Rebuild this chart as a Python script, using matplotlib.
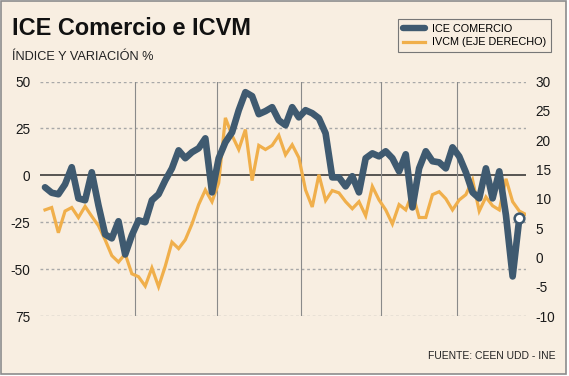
import numpy as np
import matplotlib
matplotlib.use("Agg")
from matplotlib import pyplot as plt
from matplotlib import transforms
from matplotlib.patches import Rectangle

# monthly series
ice_comercio = [-6.4, -9.3, -10.1, -4.8, 4.3, -12.3, -13.3, 1.6, -16.0, -31.5,
                -33.6, -24.5, -42.2, -32.0, -24.0, -25.0, -13.3, -10.1, -2.7, 3.7,
                13.3, 9.1, 12.3, 14.4, 19.7, -9.1, 9.1, 17.6, 22.9, 34.7,
                44.3, 42.2, 32.6, 34.2, 36.3, 29.3, 26.7, 36.3, 30.9, 34.7,
                33.1, 30.4, 22.4, -1.1, -1.1, -5.9, -0.5, -9.1, 9.1, 11.7,
                10.1, 12.8, 9.1, 2.1, 11.2, -17.1, 3.7, 12.8, 7.5, 6.9,
                3.7, 14.9, 10.1, 1.6, -9.1, -12.3, 3.7, -12.3, 2.1, -21.3,
                -53.9, -22.9]

ivcm = [8.1, 8.5, 4.2, 7.9, 8.5, 6.8, 8.7, 7.0, 5.4, 3.0,
        0.3, -0.8, 0.6, -2.8, -3.3, -4.9, -1.8, -5.0, -1.5, 2.6,
        1.5, 3.0, 5.7, 9.0, 11.5, 9.5, 12.7, 23.8, 20.8, 18.4,
        21.8, 13.1, 19.1, 18.4, 19.1, 20.8, 17.5, 19.2, 17.0, 11.5,
        8.6, 14.1, 9.7, 11.4, 11.0, 9.5, 8.3, 9.5, 7.1, 12.1,
        9.8, 8.1, 5.7, 9.0, 8.1, 11.0, 6.8, 6.8, 10.7, 11.2,
        10.0, 8.1, 9.8, 10.7, 13.2, 7.9, 10.3, 8.8, 8.1, 13.4,
        9.5, 7.9, 7.3]

year_labels = ['2008', '2009', '2010', '2011', '2012', '2013', '2014 E']
year_pos = [1.35, 13.4, 25.8, 38.3, 50.3, 61.6, 68.7]
year_lines = [13.4, 25.8, 38.3, 50.3, 61.6]

left_ticks = [50, 25, 0, -25, -50, -75]
left_labels = ['50', '25', '0', '-25', '-50', '75']
right_ticks = [30, 25, 20, 15, 10, 5, 0, -5, -10]

bg = '#F8EEE1'
blue = '#3F5A70'
orange = '#F0AF4B'

plt.rcParams['font.family'] = ['Liberation Sans', 'DejaVu Sans']
plt.rcParams['axes.unicode_minus'] = False

fig = plt.figure(figsize=(5.69, 3.76), dpi=100, facecolor='white')
fig.patches.append(Rectangle((0.0026, 0.0066), 0.993, 0.9907, transform=fig.transFigure,
                             facecolor=bg, edgecolor='#8C8C8C', linewidth=1.2, zorder=-10))

ax2 = fig.add_axes([40 / 569, 60 / 376, 486 / 569, 234.5 / 376])
ax = ax2.twinx()
ax.set_zorder(ax2.get_zorder() + 1)
ax.patch.set_visible(False)
ax2.patch.set_visible(False)

x_ice = np.arange(len(ice_comercio))
x_ivcm = np.arange(len(ivcm))

ax.set_xlim(-0.75, 72)
ax2.set_xlim(-0.75, 72)
ax.set_ylim(-75, 50)
ax2.set_ylim(-10, 30)

# grid drawn on the bottom axes but in left-axis units
trans = transforms.blended_transform_factory(ax2.transAxes, ax.transData)
for v in left_ticks:
    if v == 0:
        ax2.plot([0, 1], [v, v], transform=trans, color='#2b2b2b', lw=1.1, zorder=1)
    else:
        ax2.plot([0, 1], [v, v], transform=trans, color='#a8a8a8', lw=1.0,
                 linestyle=(0, (2, 2)), zorder=1)
for xv in year_lines:
    ax2.axvline(xv, color='#8a8a8a', lw=0.8, zorder=1)

ax2.plot(x_ivcm, ivcm, color=orange, lw=2.3, solid_joinstyle='miter', zorder=3)
ax.plot(x_ice, ice_comercio, color=blue, lw=4.8, solid_joinstyle='round',
        solid_capstyle='round', zorder=4)
ax.plot(x_ice[-1], ice_comercio[-1], 'o', ms=7, mfc='white', mec=blue, mew=1.8, zorder=5)

for a in (ax, ax2):
    for s in a.spines.values():
        s.set_visible(False)

ax.set_yticks([])
ax2.set_yticks([])

# left labels belong to the ICE axis, right labels to IVCM
ax_l = ax2.secondary_yaxis('left', functions=(lambda r: -75 + (r + 10) * 125 / 40,
                                              lambda v: -10 + (v + 75) * 40 / 125))
ax_l.set_yticks(left_ticks)
ax_l.set_yticklabels(left_labels)
ax_l.tick_params(length=0, pad=7, labelsize=9.8, colors='#1a1a1a')
ax_l.spines['left'].set_visible(False)

ax_r = ax2.secondary_yaxis('right')
ax_r.set_yticks(right_ticks)
ax_r.set_yticklabels([str(t) for t in right_ticks])
ax_r.tick_params(length=0, pad=7, labelsize=9.8, colors='#1a1a1a')
ax_r.spines['right'].set_visible(False)

ax2.set_xticks(year_pos)
ax2.set_xticklabels(year_labels)
ax2.tick_params(axis='x', length=0, pad=6, labelsize=9.8, colors='#1a1a1a')
ax.set_xticks([])

fig.text(12 / 569, 1 - 35 / 376, 'ICE Comercio e ICVM', fontsize=16.9,
         fontweight='bold', color='#111111', va='baseline', ha='left')
fig.text(12 / 569, 1 - 60 / 376, 'ÍNDICE Y VARIACIÓN %', fontsize=9.2,
         color='#222222', va='baseline', ha='left')
fig.text(556 / 569, 1 - 359.3 / 376, 'FUENTE: CEEN UDD - INE', fontsize=7.5,
         color='#222222', va='baseline', ha='right')

h1, = ax.plot([], [], color=blue, lw=4.6, solid_capstyle='round')
h2, = ax.plot([], [], color=orange, lw=2.3)
leg = fig.legend([h1, h2], ['ICE COMERCIO', 'IVCM (EJE DERECHO)'],
                 loc='upper right', bbox_to_anchor=(551 / 569, 1 - 19.3 / 376),
                 borderaxespad=0, fontsize=7.8, handlelength=2.0, handletextpad=0.65,
                 labelspacing=0.3, borderpad=0.45, fancybox=False, framealpha=1)
leg.get_frame().set_facecolor(bg)
leg.get_frame().set_edgecolor('#777777')
leg.get_frame().set_linewidth(0.8)

fig.savefig('out.png', dpi=100, facecolor=fig.get_facecolor())
